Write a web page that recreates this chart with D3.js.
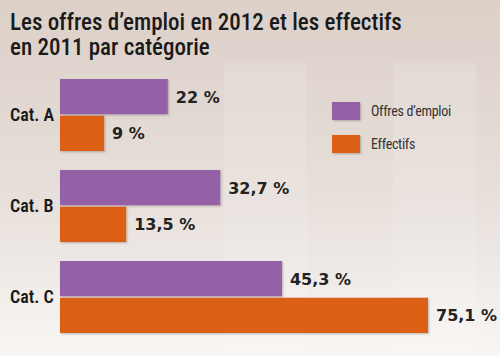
<!DOCTYPE html>
<html><head><meta charset="utf-8">
<script src="https://cdn.jsdelivr.net/npm/d3@7"></script>
<style>
html,body{margin:0;padding:0;background:#fff;}
svg{display:block;}
</style></head>
<body>
<svg id="chart" width="500" height="356"></svg>
<script>
const categories = ["Cat. A", "Cat. B", "Cat. C"];
const offres = [22, 32.7, 45.3];
const effectifs = [9, 13.5, 75.1];
const offresLabels = ["22 %", "32,7 %", "45,3 %"];
const effectifsLabels = ["9 %", "13,5 %", "75,1 %"];
const seriesNames = ["Offres d\u2019emploi", "Effectifs"];
const colors = ["#9461a6", "#dc5e19"];
const titleLines = ["Les offres d\u2019emploi en 2012 et les effectifs", "en 2011 par catégorie"];

const svg = d3.select("#chart");
const W = 500, H = 356;
const defs = svg.append("defs");
const grad = defs.append("linearGradient").attr("id","bg").attr("x1",0).attr("y1",0).attr("x2",0).attr("y2",1);
grad.append("stop").attr("offset","0%").attr("stop-color","#dcd0c8");
grad.append("stop").attr("offset","55%").attr("stop-color","#e7dfda");
grad.append("stop").attr("offset","100%").attr("stop-color","#f8f6f4");
svg.append("rect").attr("width",W).attr("height",H).attr("fill","url(#bg)");
// faint background panels
[[224,307],[393,476]].forEach(p=>{
  svg.append("rect").attr("x",p[0]).attr("y",63).attr("width",p[1]-p[0]).attr("height",H-63)
    .attr("fill","#ffffff").attr("opacity",0.12);
});
const sh = defs.append("filter").attr("id","sh").attr("x","-5%").attr("y","-10%").attr("width","115%").attr("height","130%");
sh.append("feDropShadow").attr("dx",1).attr("dy",1).attr("stdDeviation",0.8).attr("flood-color","#000").attr("flood-opacity",0.25);

// title
const font = "'Liberation Sans Narrow','Roboto Condensed','Arial Narrow',Roboto,sans-serif";
svg.append("text").attr("font-family",font).attr("font-size",23).attr("font-weight",500).attr("fill","#1a1a1a")
  .selectAll("tspan").data(titleLines).join("tspan")
  .attr("x",10).attr("y",(d,i)=>30+i*25).text(d=>d);

const x = d3.scaleLinear().domain([0,75.1]).range([60,428]);
const y = d3.scaleBand().domain(categories).range([79,333]).paddingInner(0.209).paddingOuter(0);
const sub = d3.scaleBand().domain([0,1]).range([0,y.bandwidth()]).paddingInner(0.04);

const data = categories.map((c,i)=>({c, vals:[offres[i],effectifs[i]], labs:[offresLabels[i],effectifsLabels[i]]}));
const g = svg.selectAll("g.cat").data(data).join("g").attr("class","cat")
  .attr("transform",d=>`translate(0,${y(d.c)})`);
g.selectAll("rect").data(d=>d.vals.map((v,j)=>({v,j}))).join("rect")
  .attr("x",x(0)).attr("y",d=>sub(d.j)).attr("width",d=>x(d.v)-x(0)).attr("height",sub.bandwidth())
  .attr("fill",d=>colors[d.j]).attr("filter","url(#sh)");
g.selectAll("text.val").data(d=>d.vals.map((v,j)=>({v,j,l:d.labs[j]}))).join("text").attr("class","val")
  .attr("x",d=>x(d.v)+8).attr("y",d=>sub(d.j)+sub.bandwidth()/2).attr("dy","0.38em")
  .attr("font-family","'DejaVu Sans',sans-serif").attr("font-weight","bold").attr("font-size",16)
  .attr("fill","#222").text(d=>d.l);
g.append("text").attr("x",10).attr("y",y.bandwidth()/2).attr("dy","0.36em")
  .attr("font-family",font).attr("font-weight",600).attr("font-size",18).attr("fill","#1a1a1a")
  .text(d=>d.c);

// legend
const lg = svg.append("g").selectAll("g").data(seriesNames).join("g")
  .attr("transform",(d,i)=>`translate(332,${102+i*33})`);
lg.append("rect").attr("width",28).attr("height",18).attr("fill",(d,i)=>colors[i]).attr("filter","url(#sh)");
lg.append("text").attr("x",39).attr("y",9).attr("dy","0.36em").attr("font-family",font)
  .attr("font-size",14).attr("letter-spacing",-0.3).attr("fill","#333").text(d=>d);
</script>
</body></html>
